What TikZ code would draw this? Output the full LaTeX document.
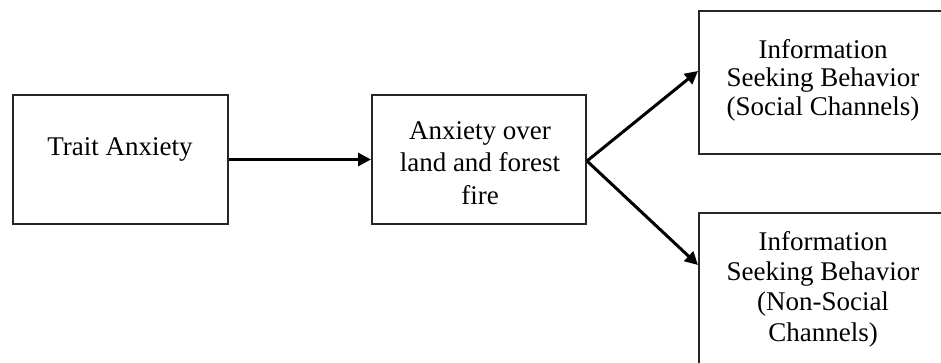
\documentclass[tikz,border=0pt]{standalone}
\usepackage{fontspec}
\setmainfont{Liberation Serif}
\usetikzlibrary{arrows.meta}
\begin{document}
\begin{tikzpicture}[x=1pt,y=-1pt,
  box/.style={draw=black!85,line width=2pt,inner sep=0pt,anchor=north west},
  lbl/.style={align=center,inner sep=0pt,font=\fontsize{27}{30}\selectfont},
  link/.style={line width=3pt,-{Triangle[length=13pt,width=13pt]}}]
\useasboundingbox (0,0) rectangle (941,363);
\clip (0,0) rectangle (941,363);
% boxes
\node[box,minimum width=215pt,minimum height=129pt] (trait) at (12,94) {};
\node[box,minimum width=214pt,minimum height=129pt] (fire) at (371,94) {};
\node[box,minimum width=260pt,minimum height=143pt] (social) at (698,10) {};
\node[box,minimum width=260pt,minimum height=180pt] (nonsocial) at (698,212) {};
% texts
\node[lbl] (t1) at (120,149) {Trait Anxiety};
\node[lbl,font=\fontsize{27}{32.5}\selectfont] (t2) at (480,163) {Anxiety over\\land and forest\\fire};
\node[lbl,font=\fontsize{27}{28.5}\selectfont] (t3) at (823,80) {Information\\Seeking Behavior\\(Social Channels)};
\node[lbl,font=\fontsize{27}{30.3}\selectfont] (t4) at (823,289) {Information\\Seeking Behavior\\(Non-Social\\Channels)};
% connectors
\draw[link] (trait.east) -- (fire.west);
\draw[link] ([yshift=-1.5pt]fire.east) -- ([yshift=11.5pt]social.west);
\draw[link] ([yshift=-1.5pt]fire.east) -- ([yshift=38pt]nonsocial.west);
\end{tikzpicture}
\end{document}
